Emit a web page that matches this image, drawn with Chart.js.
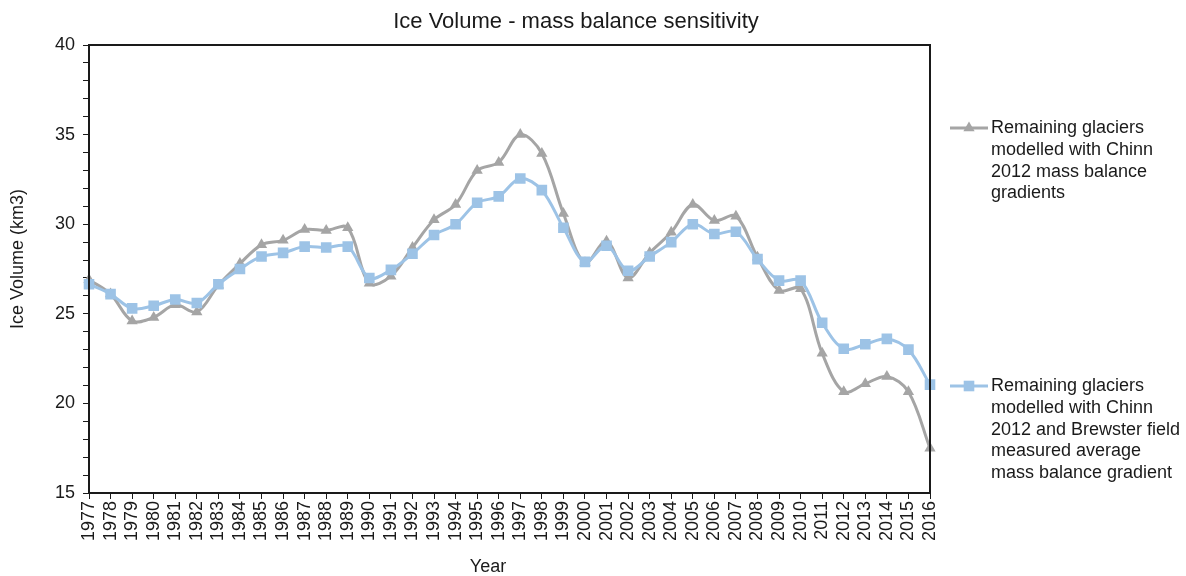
<!DOCTYPE html>
<html>
<head>
<meta charset="utf-8">
<script src="https://cdn.jsdelivr.net/npm/chart.js@4/dist/chart.umd.min.js"></script>
<style>
  html, body { margin: 0; padding: 0; background: #ffffff; }
  #wrap { width: 1186px; height: 576px; position: relative; }
</style>
</head>
<body>
<div id="wrap"><canvas id="chart"></canvas></div>
<script>
// Years on the horizontal axis
const years = [
  '1977','1978','1979','1980','1981','1982','1983','1984','1985','1986',
  '1987','1988','1989','1990','1991','1992','1993','1994','1995','1996',
  '1997','1998','1999','2000','2001','2002','2003','2004','2005','2006',
  '2007','2008','2009','2010','2011','2012','2013','2014','2015','2016'
];

// Ice volume (km3), Chinn 2012 mass balance gradients
const chinnVolume = [
  26.9, 26.1, 24.6, 24.8, 25.5, 25.1, 26.6, 27.8, 28.85, 29.1,
  29.7, 29.65, 29.8, 26.7, 27.1, 28.7, 30.25, 31.1, 33.0, 33.45,
  35.0, 33.95, 30.6, 27.85, 29.05, 27.0, 28.4, 29.55, 31.1, 30.2,
  30.45, 28.15, 26.3, 26.4, 22.8, 20.65, 21.1, 21.5, 20.65, 17.5
];

// Ice volume (km3), Chinn 2012 + Brewster field measured gradient
const brewsterVolume = [
  26.65, 26.1, 25.3, 25.45, 25.8, 25.6, 26.65, 27.5, 28.2, 28.4,
  28.75, 28.7, 28.75, 27.0, 27.45, 28.35, 29.4, 30.0, 31.2, 31.55,
  32.55, 31.9, 29.8, 27.9, 28.8, 27.4, 28.2, 29.0, 30.0, 29.45,
  29.58, 28.05, 26.85, 26.85, 24.5, 23.05, 23.3, 23.6, 23.0, 21.05
];

const seriesNames = [
  ['Remaining glaciers', 'modelled with Chinn', '2012 mass balance', 'gradients'],
  ['Remaining glaciers', 'modelled with Chinn', '2012 and Brewster field', 'measured average', 'mass balance gradient']
];

const titleText = 'Ice Volume - mass balance sensitivity';
const yTitle = 'Ice Volume (km3)';
const xTitle = 'Year';

const GREY = '#a5a5a5';
const BLUE = '#9dc3e6';
const INK = '#1a1a1a';
const FONT = '"Liberation Sans", Arial, sans-serif';

function drawMarker(ctx, style, x, y, r, color) {
  ctx.save();
  ctx.fillStyle = color;
  ctx.beginPath();
  if (style === 'triangle') {
    ctx.moveTo(x, y - r);
    ctx.lineTo(x + r * 0.866, y + r * 0.5);
    ctx.lineTo(x - r * 0.866, y + r * 0.5);
    ctx.closePath();
  } else {
    const s = r * Math.SQRT1_2;
    ctx.rect(x - s, y - s, 2 * s, 2 * s);
  }
  ctx.fill();
  ctx.restore();
}

// Frame, titles and wrapped legend
const decorations = {
  id: 'decorations',
  afterDraw(chart) {
    const ctx = chart.ctx;
    const a = chart.chartArea;
    ctx.save();
    // plot frame
    ctx.strokeStyle = INK;
    ctx.lineWidth = 2;
    ctx.strokeRect(a.left, a.top, a.right - a.left, a.bottom - a.top);

    ctx.fillStyle = INK;
    ctx.textBaseline = 'middle';
    ctx.textAlign = 'center';
    ctx.font = '22px ' + FONT;
    ctx.fillText(titleText, 576, 22);

    ctx.font = '18px ' + FONT;
    ctx.fillText(xTitle, 488, 567);

    ctx.save();
    ctx.translate(18, 259);
    ctx.rotate(-Math.PI / 2);
    ctx.fillText(yTitle, 0, 0);
    ctx.restore();

    // legend
    const entries = [
      { ds: chart.data.datasets[0], y: 128, lines: seriesNames[0] },
      { ds: chart.data.datasets[1], y: 386, lines: seriesNames[1] }
    ];
    ctx.textAlign = 'left';
    ctx.font = '18px ' + FONT;
    entries.forEach(e => {
      ctx.strokeStyle = e.ds.borderColor;
      ctx.lineWidth = 3;
      ctx.beginPath();
      ctx.moveTo(950, e.y);
      ctx.lineTo(988, e.y);
      ctx.stroke();
      drawMarker(ctx, e.ds.pointStyle, 969, e.y, e.ds.pointRadius, e.ds.pointBackgroundColor);
      ctx.fillStyle = INK;
      e.lines.forEach((t, i) => ctx.fillText(t, 991, e.y + i * 21.8));
    });
    ctx.restore();
  }
};

new Chart(document.getElementById('chart'), {
  type: 'line',
  data: {
    labels: years,
    datasets: [
      {
        label: seriesNames[0].join(' '),
        data: chinnVolume,
        borderColor: GREY,
        backgroundColor: GREY,
        pointBackgroundColor: GREY,
        pointBorderColor: GREY,
        borderWidth: 3,
        pointStyle: 'triangle',
        pointRadius: 6.5,
        pointBorderWidth: 0,
        tension: 0.35,
        order: 1
      },
      {
        label: seriesNames[1].join(' '),
        data: brewsterVolume,
        borderColor: BLUE,
        backgroundColor: BLUE,
        pointBackgroundColor: BLUE,
        pointBorderColor: BLUE,
        borderWidth: 3,
        pointStyle: 'rect',
        pointRadius: 7.5,
        pointBorderWidth: 0,
        tension: 0.35,
        order: 0
      }
    ]
  },
  options: {
    responsive: true,
    maintainAspectRatio: false,
    animation: false,
    layout: { padding: { top: 45, right: 256, left: 0, bottom: 0 } },
    plugins: {
      legend: { display: false },
      title: { display: false },
      tooltip: { enabled: false }
    },
    scales: {
      x: {
        type: 'category',
        offset: false,
        afterFit(scale) { scale.height = 83; },
        grid: {
          display: true,
          drawOnChartArea: false,
          drawTicks: true,
          tickLength: 6,
          color: INK,
          offset: false
        },
        border: { display: true, color: INK, width: 2 },
        ticks: {
          autoSkip: false,
          minRotation: 90,
          maxRotation: 90,
          padding: 2,
          color: INK,
          font: { family: FONT, size: 18 }
        }
      },
      y: {
        min: 15,
        max: 40,
        afterFit(scale) { scale.width = 89; },
        grid: {
          display: true,
          drawOnChartArea: false,
          drawTicks: true,
          tickLength: 6,
          color: INK
        },
        border: { display: true, color: INK, width: 2 },
        ticks: {
          stepSize: 1,
          maxTicksLimit: 40,
          autoSkip: false,
          padding: 8,
          color: INK,
          font: { family: FONT, size: 18 },
          callback: v => (v % 5 === 0 ? String(v) : '')
        }
      }
    }
  },
  plugins: [decorations]
});
</script>
</body>
</html>
